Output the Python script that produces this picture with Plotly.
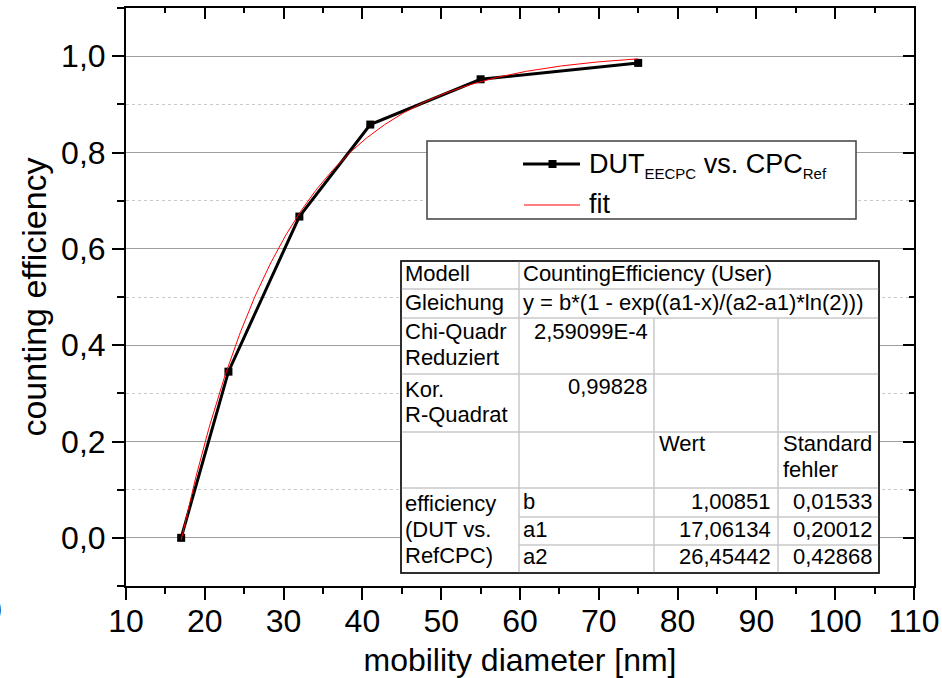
import numpy as np
import plotly.graph_objects as go

# Measured counting efficiency of the EECPC against the reference CPC
diameter_nm = [17, 23, 32, 41, 55, 75]
efficiency = [0.0, 0.345, 0.667, 0.858, 0.952, 0.986]

# Fit result: y = b*(1 - exp((a1-x)/(a2-a1)*ln(2)))
fit_b, fit_b_err = 1.00851, 0.01533
fit_a1, fit_a1_err = 17.06134, 0.20012
fit_a2, fit_a2_err = 26.45442, 0.42868
chi2_red = 2.59099e-4
adj_r2 = 0.99828

x_range = [10, 110]
y_range = [-0.1, 1.1]

FONT = "Liberation Sans, Arial, sans-serif"
W, H = 942, 678
PL, PR, PT, PB = 126, 914, 8, 586  # plot area in pixels


def px(x):
    return (x - PL) / (PR - PL)


def py(y):
    return (PB - y) / (PB - PT)


def de(v, n):
    return f"{v:.{n}f}".replace(".", ",")


def de_sci(v, n):
    exp = int(np.floor(np.log10(abs(v))))
    mant = v / 10 ** exp
    return f"{de(mant, n)}E{exp}"


x_fit = np.linspace(diameter_nm[0], diameter_nm[-1], 300)
y_fit = fit_b * (1 - np.exp((fit_a1 - x_fit) / (fit_a2 - fit_a1) * np.log(2)))

fig = go.Figure()
fig.add_trace(go.Scatter(
    x=diameter_nm, y=efficiency, mode="lines+markers", name="DUT EECPC vs. CPC Ref",
    line=dict(color="black", width=3),
    marker=dict(symbol="square", size=8, color="black"),
    showlegend=False))
fig.add_trace(go.Scatter(
    x=x_fit, y=y_fit, mode="lines", name="fit",
    line=dict(color="#ff0000", width=1), showlegend=False))
# carries the mirrored top/right axes
fig.add_trace(go.Scatter(x=[None], y=[None], xaxis="x2", yaxis="y2",
                         showlegend=False, hoverinfo="skip"))

tickfont = dict(family=FONT, size=32, color="black")
fig.update_layout(
    width=W, height=H,
    margin=dict(l=PL, r=W - PR, t=PT, b=H - PB, autoexpand=False),
    paper_bgcolor="white", plot_bgcolor="white",
    separators=",.",
    font=dict(family=FONT, color="black"),
    showlegend=False,
    xaxis=dict(
        range=x_range, tick0=10, dtick=10, ticks="outside", ticklen=12, tickwidth=2,
        tickcolor="black", showline=True, linecolor="black", linewidth=2,
        showgrid=False, zeroline=False, tickfont=tickfont, ticklabelstandoff=-6,
        automargin=False,
        minor=dict(ticks="outside", ticklen=6, tickwidth=2, tickcolor="black",
                   dtick=5, tick0=10, showgrid=False),
        title=dict(text="mobility diameter [nm]", font=dict(family=FONT, size=32),
                   standoff=14),
    ),
    yaxis=dict(
        range=y_range, tick0=0, dtick=0.2, tickformat=".1f", ticks="outside",
        ticklen=12, tickwidth=2, tickcolor="black", showline=True, linecolor="black",
        linewidth=2, showgrid=True, gridcolor="#a0a0a0", gridwidth=1, zeroline=False,
        tickfont=tickfont, ticklabelstandoff=0, automargin=False,
        minor=dict(ticks="outside", ticklen=7, tickwidth=2, tickcolor="black",
                   dtick=0.1, tick0=0, showgrid=True, gridcolor="#c8c8c8",
                   griddash="dot", gridwidth=1),
        title=dict(text="counting efficiency", font=dict(family=FONT, size=34),
                   standoff=4),
    ),
    xaxis2=dict(
        overlaying="x", side="top", range=x_range, tick0=10, dtick=10,
        ticks="inside", ticklen=11, tickwidth=2, tickcolor="black",
        showticklabels=False, showline=True, linecolor="black", linewidth=2,
        showgrid=False, zeroline=False, automargin=False,
        minor=dict(ticks="inside", ticklen=5, tickwidth=2, tickcolor="black",
                   dtick=5, tick0=10, showgrid=False),
    ),
    yaxis2=dict(
        overlaying="y", side="right", range=y_range, tick0=0, dtick=0.2,
        ticks="inside", ticklen=11, tickwidth=2, tickcolor="black",
        showticklabels=False, showline=True, linecolor="black", linewidth=2,
        showgrid=False, zeroline=False, automargin=False,
        minor=dict(ticks="inside", ticklen=5, tickwidth=2, tickcolor="black",
                   dtick=0.1, tick0=0, showgrid=False),
    ),
)

shapes = []
annotations = []


def rect(x0, y0, x1, y1, color, width, fill="white"):
    shapes.append(dict(type="rect", xref="paper", yref="paper",
                       x0=px(x0), x1=px(x1), y0=py(y1), y1=py(y0),
                       line=dict(color=color, width=width), fillcolor=fill,
                       layer="above"))


def hline(x0, x1, y, color, width):
    shapes.append(dict(type="line", xref="paper", yref="paper",
                       x0=px(x0), x1=px(x1), y0=py(y), y1=py(y),
                       line=dict(color=color, width=width), layer="above"))


def vline(x, y0, y1, color, width):
    shapes.append(dict(type="line", xref="paper", yref="paper",
                       x0=px(x), x1=px(x), y0=py(y0), y1=py(y1),
                       line=dict(color=color, width=width), layer="above"))


def text(s, x, y, size, anchor="left"):
    annotations.append(dict(text=s, xref="paper", yref="paper", x=px(x), y=py(y),
                            xanchor=anchor, yanchor="middle", showarrow=False,
                            font=dict(family=FONT, size=size, color="black")))


# legend box
rect(427, 141, 856, 219, "#404040", 1.5)
hline(523, 580, 164, "black", 3)
rect(548.5, 160, 556.5, 168, "black", 0, fill="black")
hline(524, 580, 205, "#ff0000", 1)
text("DUT<sub><span style='font-size:15px'>EECPC</span></sub> vs. "
     "CPC<sub><span style='font-size:15px'>Ref</span></sub>", 587, 166, 27)
text("fit", 587, 204, 27)

# fit result table
cols = [401, 519, 654, 778, 879]
rows = [261, 289, 318, 374, 432, 488, 517, 545, 573]
GRID = "#c8c8c8"
rect(cols[0], rows[0], cols[4], rows[-1], "#202020", 1.5)
for r in rows[1:6]:
    hline(cols[0], cols[4], r, GRID, 1.5)
for r in rows[6:8]:
    hline(cols[1], cols[4], r, GRID, 1.5)
vline(cols[1], rows[0], rows[-1], GRID, 1.5)
vline(cols[2], rows[2], rows[-1], GRID, 1.5)
vline(cols[3], rows[2], rows[-1], GRID, 1.5)
# redraw outer frame over the inner lines
shapes.append(dict(type="rect", xref="paper", yref="paper",
                   x0=px(cols[0]), x1=px(cols[4]), y0=py(rows[-1]), y1=py(rows[0]),
                   line=dict(color="#202020", width=1.5), layer="above"))

TS = 22
c1, c2, c3, c4 = 403, 521, 657, 781
text("Modell", c1, 274, TS)
text("CountingEfficiency (User)", c2, 274, TS)
text("Gleichung", c1, 303, TS)
text("y = b*(1 - exp((a1-x)/(a2-a1)*ln(2)))", c2, 303, TS)
text("Chi-Quadr", c1, 332, TS)
text("Reduziert", c1, 357.5, TS)
text(de_sci(chi2_red, 5), 650, 331, TS, "right")
text("Kor.", c1, 389, TS)
text("R-Quadrat", c1, 414, TS)
text(de(adj_r2, 5), 650, 386, TS, "right")
text("Wert", c3, 443, TS)
text("Standard", c4, 443, TS)
text("fehler", c4, 469, TS)
text("efficiency", c1, 503, TS)
text("(DUT vs.", c1, 529, TS)
text("RefCPC)", c1, 555.5, TS)
params = [("b", fit_b, fit_b_err, 501), ("a1", fit_a1, fit_a1_err, 529),
          ("a2", fit_a2, fit_a2_err, 556.5)]
for name, val, err, yc in params:
    text(name, c2, yc, TS)
    text(de(val, 5), 773, yc, TS, "right")
    text(de(err, 5), 875, yc, TS, "right")

# label clipped at the left edge
text("0", 4, 610, 32, "right")

fig.update_layout(shapes=shapes, annotations=annotations)
fig.write_html("out.html")
